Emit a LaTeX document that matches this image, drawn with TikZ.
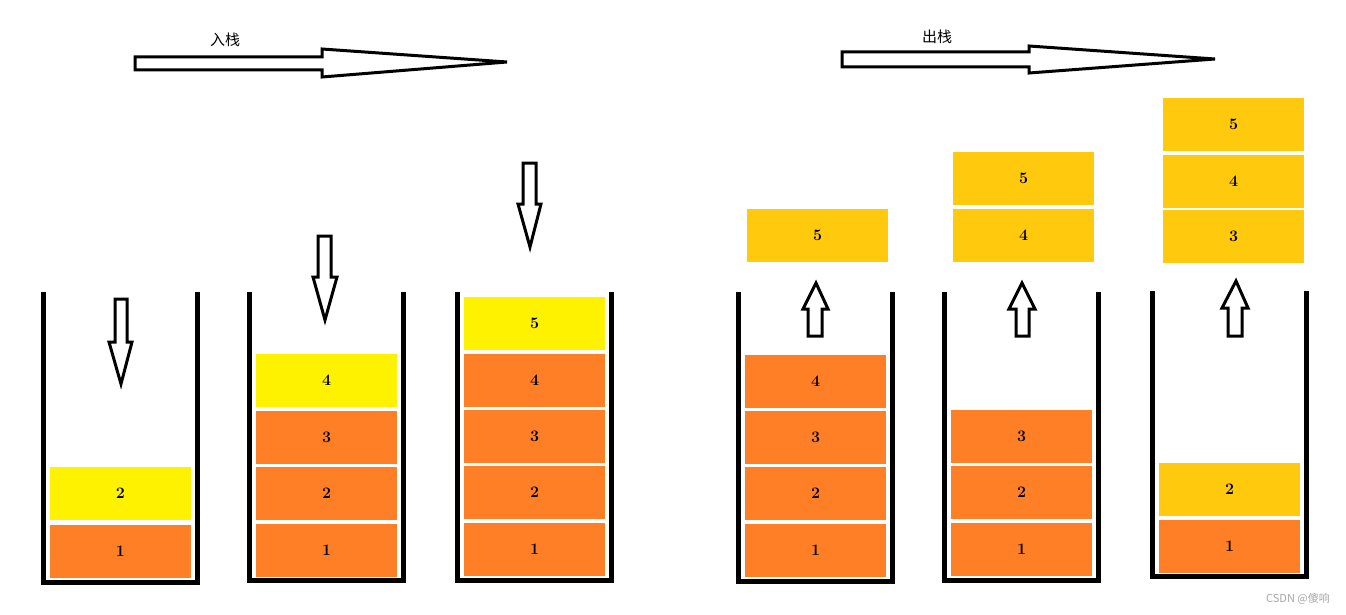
\documentclass[tikz,border=0pt]{standalone}
\usepackage{fontspec}
\usetikzlibrary{calc,positioning}
\newfontfamily\cjk{Noto Sans CJK SC}
\definecolor{stackorange}{RGB}{255,127,39}
\definecolor{stackyellow}{RGB}{255,242,0}
\definecolor{popgold}{RGB}{255,201,14}
\def\num(#1){{\fontsize{16}{16}\selectfont\bfseries #1}}
\begin{document}
\begin{tikzpicture}[x=1pt,y=-1pt,
box/.style={minimum width=141pt,minimum height=53pt,inner sep=0pt},
wall/.style={line width=5pt},
blockarrow/.style={line width=3pt,line join=miter,fill=white}]
\useasboundingbox (0,0) rectangle (1346,615);
%\node (title) at (673,10) {};
\node (pushlabel) at (225,40) {{\cjk\fontsize{15}{15}\selectfont 入栈}};
\node (poplabel) at (937,37) {{\cjk\fontsize{15}{15}\selectfont 出栈}};
\draw[blockarrow] (135,57)--(322,57)--(322,49)--(507,62)--(322,77)--(322,70)--(135,70)--cycle;
\draw[blockarrow] (842,52)--(1029,52)--(1029,46)--(1215,59)--(1029,73)--(1029,67)--(842,67)--cycle;
% stack 1
\draw[wall] (43.5,292) |- (197.5,582.5) -- (197.5,292);
\node (s1n1) at (120.5,551.5) [box,fill=stackorange] {\num(1)};
\node (s1n2) at (120.5,493.5) [box,fill=stackyellow] {\num(2)};
\draw[blockarrow] (115,299)--(127,299)--(127,342)--(132,342)--(121,384)--(109,342)--(115,342)--cycle;
% stack 2
\draw[wall] (249.5,292) |- (403.5,580.5) -- (403.5,292);
\node (s2n1) at (326.5,550.5) [box,fill=stackorange] {\num(1)};
\node (s2n2) at (326.5,493) [box,fill=stackorange] {\num(2)};
\node (s2n3) at (326.5,437) [box,fill=stackorange] {\num(3)};
\node (s2n4) at (326.5,380.5) [box,fill=stackyellow] {\num(4)};
\draw[blockarrow] (318,236)--(331,236)--(331,277)--(337,277)--(325,320)--(313,277)--(318,277)--cycle;
% stack 3
\draw[wall] (457.5,292) |- (611.5,580) -- (611.5,292);
\node (s3n1) at (534.5,549.5) [box,fill=stackorange] {\num(1)};
\node (s3n2) at (534.5,492) [box,fill=stackorange] {\num(2)};
\node (s3n3) at (534.5,436.5) [box,fill=stackorange] {\num(3)};
\node (s3n4) at (534.5,380.5) [box,fill=stackorange] {\num(4)};
\node (s3n5) at (534.5,323.5) [box,fill=stackyellow] {\num(5)};
\draw[blockarrow] (523,163)--(536,163)--(536,204)--(541,204)--(530,247)--(518,204)--(523,204)--cycle;
% stack 4
\draw[wall] (738.5,292) |- (892.5,581) -- (892.5,292);
\node (s4n1) at (815.5,550.5) [box,fill=stackorange] {\num(1)};
\node (s4n2) at (815.5,493) [box,fill=stackorange] {\num(2)};
\node (s4n3) at (815.5,437) [box,fill=stackorange] {\num(3)};
\node (s4n4) at (815.5,381.5) [box,fill=stackorange] {\num(4)};
\node (s4p5) at (817.5,235.5) [box,fill=popgold] {\num(5)};
\draw[blockarrow] (816,283)--(828,309)--(822,309)--(822,336)--(808,336)--(808,309)--(803,309)--cycle;
% stack 5
\draw[wall] (944.5,292) |- (1098.5,580) -- (1098.5,292);
\node (s5n1) at (1021.5,549) [box,fill=stackorange] {\num(1)};
\node (s5n2) at (1021.5,492) [box,fill=stackorange] {\num(2)};
\node (s5n3) at (1021.5,436.5) [box,fill=stackorange] {\num(3)};
\node (s5p4) at (1023.5,235.5) [box,fill=popgold] {\num(4)};
\node (s5p5) at (1023.5,178.5) [box,fill=popgold] {\num(5)};
\draw[blockarrow] (1022,283)--(1035,309)--(1029,309)--(1029,336)--(1016,336)--(1016,309)--(1009,309)--cycle;
% stack 6
\draw[wall] (1152.5,291) |- (1306.5,576.5) -- (1306.5,291);
\node (s6n1) at (1229.5,546.5) [box,fill=stackorange] {\num(1)};
\node (s6n2) at (1229.5,489.5) [box,fill=popgold] {\num(2)};
\node (s6p3) at (1233.5,236.5) [box,fill=popgold] {\num(3)};
\node (s6p4) at (1233.5,181) [box,fill=popgold] {\num(4)};
\node (s6p5) at (1233.5,124.5) [box,fill=popgold] {\num(5)};
\draw[blockarrow] (1236,281)--(1248,308)--(1242,308)--(1242,336)--(1228,336)--(1228,308)--(1222,308)--cycle;
\node (mark) at (1298,599) {{\cjk\fontsize{11}{11}\selectfont\color{gray!70} CSDN @傻响}};
\end{tikzpicture}
\end{document}
